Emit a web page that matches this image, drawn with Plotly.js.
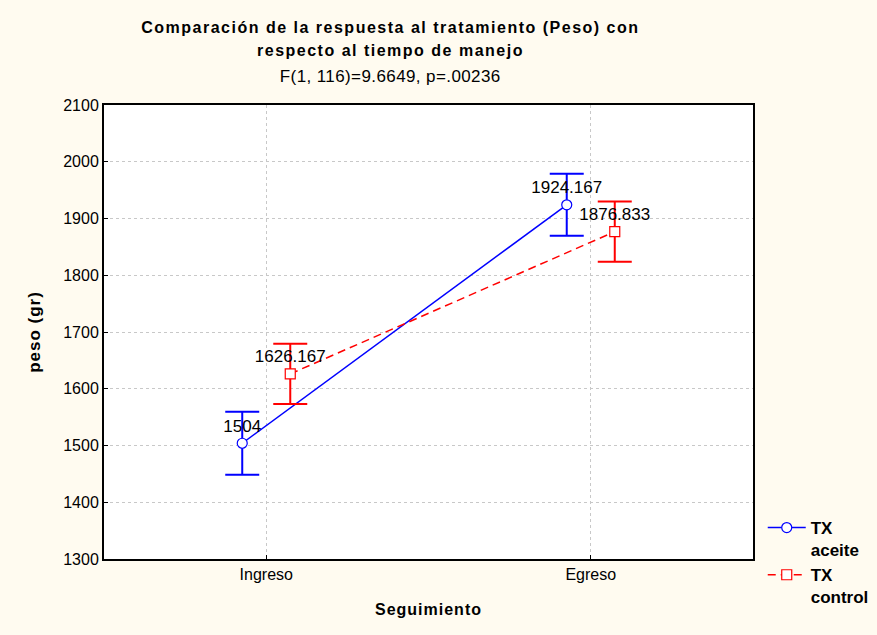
<!DOCTYPE html>
<html>
<head>
<meta charset="utf-8">
<script src="https://cdn.plot.ly/plotly-3.0.1.min.js"></script>
<style>
html,body{margin:0;padding:0;background:#FFFBF0;}
#chart{width:877px;height:635px;}
.annotation[data-index="0"] text, .annotation[data-index="1"] text {letter-spacing:1.5px;}
.annotation[data-index="2"] text {letter-spacing:0.4px;}
.xtitle, .ytitle {letter-spacing:1px;}
</style>
</head>
<body>
<div id="chart"></div>
<script>
var categories = ["Ingreso", "Egreso"];
var categoryPos = [0, 1];
var seriesNames = ["TX<br>aceite", "TX<br>control"];
var aceiteMean = [1504, 1924.167];
var aceiteErr = [55.5, 54.7];
var controlMean = [1626.167, 1876.833];
var controlErr = [53.2, 53.2];
var aceiteLabels = ["1504", "1924.167"];
var controlLabels = ["1626.167", "1876.833"];
var yTicks = [1300, 1400, 1500, 1600, 1700, 1800, 1900, 2000, 2100];

var off = 0.074;
var font = "Arial, 'Liberation Sans', sans-serif";

var traces = [
  {
    x: categoryPos.map(function(v){return v - off;}),
    y: aceiteMean,
    name: seriesNames[0],
    type: "scatter",
    mode: "lines+markers+text",
    text: aceiteLabels,
    textposition: "top center",
    textfont: {family: font, size: 17, color: "#000"},
    line: {color: "#0000FF", width: 1.5},
    marker: {symbol: "circle", size: 10, color: "#FFFFFF", line: {color: "#0000FF", width: 1.2}},
    error_y: {type: "data", array: aceiteErr, visible: true, color: "#0000FF", thickness: 2, width: 17},
    cliponaxis: false
  },
  {
    x: categoryPos.map(function(v){return v + off;}),
    y: controlMean,
    name: seriesNames[1],
    type: "scatter",
    mode: "lines+markers+text",
    text: controlLabels,
    textposition: "top center",
    textfont: {family: font, size: 17, color: "#000"},
    line: {color: "#FF0000", width: 1.5, dash: "8px,5px"},
    marker: {symbol: "square", size: 10, color: "#FFFFFF", line: {color: "#FF0000", width: 1.2}},
    error_y: {type: "data", array: controlErr, visible: true, color: "#FF0000", thickness: 2, width: 17},
    cliponaxis: false
  }
];

var plotW = 877 - 104 - 124, plotH = 635 - 105 - 76;
var cx = (390 - 104) / plotW;
function py(pix){ return (635 - 76 - pix) / plotH; }

var layout = {
  width: 877,
  height: 635,
  paper_bgcolor: "#FFFBF0",
  plot_bgcolor: "#FFFFFF",
  margin: {l: 104, r: 124, t: 105, b: 76, autoexpand: false},
  font: {family: font, size: 16, color: "#000"},
  showlegend: true,
  legend: {
    x: 1.015, y: py(510), xanchor: "left", yanchor: "top",
    bgcolor: "rgba(0,0,0,0)",
    font: {family: font, size: 17, color: "#000", weight: "bold"},
    valign: "top",
    itemwidth: 38,
    tracegroupgap: 4
  },
  xaxis: {
    range: [-0.5, 1.5],
    tickmode: "array",
    tickvals: categoryPos,
    ticktext: categories,
    ticks: "inside",
    ticklen: 4,
    tickcolor: "#000",
    showline: true, linecolor: "#000", linewidth: 2, mirror: true,
    showgrid: true, gridcolor: "#C8C8C8", griddash: "dot", gridwidth: 1,
    zeroline: false,
    automargin: false,
    tickfont: {family: font, size: 16},
    title: {text: "Seguimiento", font: {family: font, size: 16, weight: "bold"}, standoff: 22}
  },
  yaxis: {
    range: [1300, 2100],
    tickmode: "array",
    tickvals: yTicks,
    ticks: "inside",
    ticklen: 4,
    tickcolor: "#000",
    showline: true, linecolor: "#000", linewidth: 2, mirror: true,
    showgrid: true, gridcolor: "#C8C8C8", griddash: "dot", gridwidth: 1,
    zeroline: false,
    automargin: false,
    tickfont: {family: font, size: 16},
    title: {text: "peso (gr)", font: {family: font, size: 17, weight: "bold"}, standoff: 18}
  },
  annotations: [
    {text: "<b>Comparación de la respuesta al tratamiento (Peso) con</b>", xref: "paper", yref: "paper", x: cx, y: py(28), xanchor: "center", yanchor: "middle", showarrow: false, font: {family: font, size: 16}},
    {text: "<b>respecto al tiempo de manejo</b>", xref: "paper", yref: "paper", x: cx, y: py(50), xanchor: "center", yanchor: "middle", showarrow: false, font: {family: font, size: 16}},
    {text: "F(1, 116)=9.6649, p=.00236", xref: "paper", yref: "paper", x: cx, y: py(77), xanchor: "center", yanchor: "middle", showarrow: false, font: {family: font, size: 17}}
  ]
};

Plotly.newPlot("chart", traces, layout, {displayModeBar: false, staticPlot: true});
</script>
</body>
</html>
